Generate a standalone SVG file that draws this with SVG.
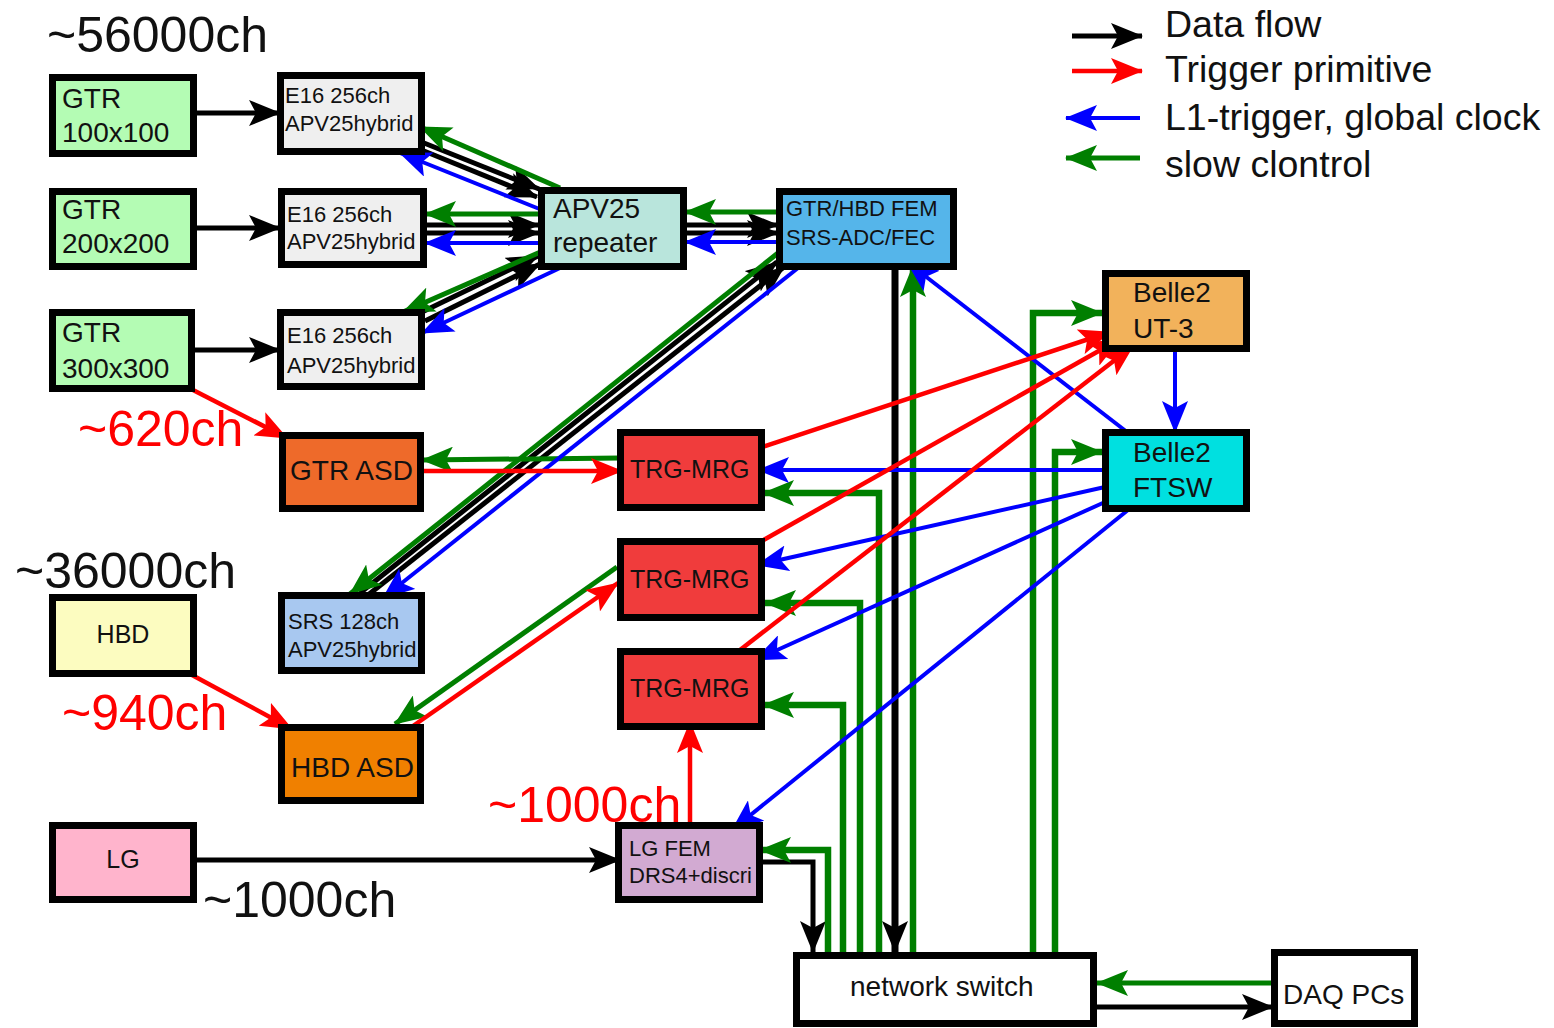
<svg xmlns="http://www.w3.org/2000/svg" width="1554" height="1028" viewBox="0 0 1554 1028">
<style>
text{font-family:"Liberation Sans",Arial,sans-serif;fill:#111}
.box{stroke:#000;stroke-width:7}
.t28{font-size:28px}
.t25{font-size:25px}
.t22{font-size:22px}
.big{font-size:50px}
.leg{font-size:37.5px}
.red{fill:#ff0000}
.k{stroke:#000;stroke-width:5;fill:none;marker-end:url(#mk)}
.k7{stroke:#000;stroke-width:7;fill:none;marker-end:url(#mk)}
.g{stroke:#007f00;stroke-width:5;fill:none;marker-end:url(#mg)}
.g6{stroke:#007f00;stroke-width:6.5;fill:none;marker-end:url(#mg)}
.b{stroke:#0000ff;stroke-width:4;fill:none;marker-end:url(#mb)}
.r{stroke:#ff0000;stroke-width:4.5;fill:none;marker-end:url(#mr)}
</style>
<defs>
<marker id="mk" markerUnits="userSpaceOnUse" viewBox="0 0 32 26" markerWidth="32" markerHeight="26" refX="31" refY="13" orient="auto"><path d="M0,0 L32,13 L0,26 L7,13 z" fill="#000"/></marker>
<marker id="mg" markerUnits="userSpaceOnUse" viewBox="0 0 32 26" markerWidth="32" markerHeight="26" refX="31" refY="13" orient="auto"><path d="M0,0 L32,13 L0,26 L7,13 z" fill="#007f00"/></marker>
<marker id="mb" markerUnits="userSpaceOnUse" viewBox="0 0 32 26" markerWidth="32" markerHeight="26" refX="31" refY="13" orient="auto"><path d="M0,0 L32,13 L0,26 L7,13 z" fill="#0000ff"/></marker>
<marker id="mr" markerUnits="userSpaceOnUse" viewBox="0 0 32 26" markerWidth="32" markerHeight="26" refX="31" refY="13" orient="auto"><path d="M0,0 L32,13 L0,26 L7,13 z" fill="#ff0000"/></marker>
</defs>
<rect width="1554" height="1028" fill="#fff"/>

<g id="labels">
<text class="big" x="47" y="52">~56000ch</text>
<text class="big" x="15" y="588">~36000ch</text>
<text class="big red" x="78" y="446">~620ch</text>
<text class="big red" x="62" y="730">~940ch</text>
<text class="big red" x="488" y="822">~1000ch</text>
<text class="big" x="203" y="917">~1000ch</text>
</g>

<g id="legend">
<path class="k" d="M1072,36 L1142,36"/>
<path class="r" d="M1072,71 L1142,71"/>
<path class="b" d="M1140,118 L1066,118"/>
<path class="g" d="M1140,158 L1066,158"/>
<text class="leg" x="1165" y="37">Data flow</text>
<text class="leg" x="1165" y="82">Trigger primitive</text>
<text class="leg" x="1165" y="130">L1-trigger, global clock</text>
<text class="leg" x="1165" y="177">slow clontrol</text>
</g>

<g id="connectors">
<path class="k" d="M197,113 L280,113"/>
<path class="k" d="M197,228 L280,228"/>
<path class="k" d="M195,350 L280,350"/>
<path class="k" d="M424,143 L539,189"/>
<path class="k" d="M424,151 L537,197"/>
<path class="k" d="M427,225 L539,225"/>
<path class="k" d="M427,233 L539,233"/>
<path class="k" d="M420,313 L538,256"/>
<path class="k" d="M425,321 L540,264"/>
<path class="k" d="M687,225 L778,225"/>
<path class="k" d="M687,233 L778,233"/>
<path class="k" d="M360,593 L777,262"/>
<path class="k" d="M368,595 L784,267"/>
<path class="k7" d="M895,270 L895,952"/>
<path class="k" d="M197,860 L620,860"/>
<path class="k" d="M763,862 L813,862 L813,952"/>
<path class="k" d="M1097,1007 L1273,1007"/>
<path class="g" d="M560,188 L420,127"/>
<path class="g" d="M540,214 L425,214"/>
<path class="g" d="M545,250 L403,312"/>
<path class="g" d="M780,212 L685,212"/>
<path class="g" d="M778,253 L350,594"/>
<path class="g" d="M620,458 L422,460"/>
<path class="g" d="M617,567 L395,724"/>
<path class="g6" d="M828,952 L828,850 L760,850"/>
<path class="g6" d="M843,952 L843,705 L763,705"/>
<path class="g6" d="M860,952 L860,603 L765,603"/>
<path class="g6" d="M879,952 L879,493 L763,493"/>
<path class="g6" d="M913,952 L913,266"/>
<path class="g6" d="M1033,952 L1033,313 L1102,313"/>
<path class="g6" d="M1055,952 L1055,452 L1102,452"/>
<path class="g" d="M1273,983 L1097,983"/>
<path class="b" d="M542,210 L400,153"/>
<path class="b" d="M540,243 L425,243"/>
<path class="b" d="M560,268 L422,333"/>
<path class="b" d="M780,242 L685,242"/>
<path class="b" d="M798,268 L383,598"/>
<path class="b" d="M1127,432 L907,262"/>
<path class="b" d="M1175,352 L1175,432"/>
<path class="b" d="M1105,470 L758,470"/>
<path class="b" d="M1105,487 L757,565"/>
<path class="b" d="M1105,502 L755,660"/>
<path class="b" d="M1128,510 L732,830"/>
<path class="r" d="M193,390 L287,438"/>
<path class="r" d="M424,471 L622,471"/>
<path class="r" d="M192,675 L292,729"/>
<path class="r" d="M413,726 L618,583"/>
<path class="r" d="M690,826 L690,722"/>
<path class="r" d="M762,447 L1110,332"/>
<path class="r" d="M760,542 L1120,339"/>
<path class="r" d="M740,650 L1133,346"/>
</g>

<g id="gtr100"><rect class="box" x="52.5" y="77.5" width="141" height="76" fill="#b4fcb4"/><text class="t28" x="62" y="108">GTR</text><text class="t28" x="62" y="142">100x100</text></g>
<g id="gtr200"><rect class="box" x="52.5" y="191.5" width="141" height="75" fill="#b4fcb4"/><text class="t28" x="62" y="219">GTR</text><text class="t28" x="62" y="253">200x200</text></g>
<g id="gtr300"><rect class="box" x="52.5" y="312.5" width="139" height="76" fill="#b4fcb4"/><text class="t28" x="62" y="342">GTR</text><text class="t28" x="62" y="378">300x300</text></g>

<g id="e16a"><rect class="box" x="280.5" y="75.5" width="141" height="76" fill="#efefef"/><text class="t22" x="285" y="103">E16 256ch</text><text class="t22" x="285" y="131">APV25hybrid</text></g>
<g id="e16b"><rect class="box" x="281.5" y="191.5" width="142" height="73" fill="#efefef"/><text class="t22" x="287" y="222">E16 256ch</text><text class="t22" x="287" y="249">APV25hybrid</text></g>
<g id="e16c"><rect class="box" x="280.5" y="312.5" width="141" height="74" fill="#efefef"/><text class="t22" x="287" y="343">E16 256ch</text><text class="t22" x="287" y="373">APV25hybrid</text></g>

<g id="apv25"><rect class="box" x="541.5" y="190.5" width="142" height="76" fill="#b9e5dc"/><text class="t28" x="553" y="218">APV25</text><text class="t28" x="553" y="252">repeater</text></g>
<g id="fem"><rect class="box" x="779.5" y="191.5" width="174" height="75" fill="#55b5ea"/><text class="t22" x="786" y="216">GTR/HBD FEM</text><text class="t22" x="786" y="245">SRS-ADC/FEC</text></g>
<g id="ut3"><rect class="box" x="1105.5" y="273.5" width="141" height="75" fill="#f2b25b"/><text class="t28" x="1133" y="302">Belle2</text><text class="t28" x="1133" y="338">UT-3</text></g>
<g id="ftsw"><rect class="box" x="1105.5" y="432.5" width="141" height="76" fill="#00e0e0"/><text class="t28" x="1133" y="462">Belle2</text><text class="t28" x="1133" y="497">FTSW</text></g>

<g id="gtrasd"><rect class="box" x="282.5" y="435.5" width="138" height="73" fill="#ee6a2a"/><text class="t28" x="290" y="480">GTR ASD</text></g>
<g id="trg1"><rect class="box" x="620.5" y="432.5" width="141" height="75" fill="#f03c3c"/><text class="t25" x="630" y="478">TRG-MRG</text></g>
<g id="trg2"><rect class="box" x="620.5" y="541.5" width="141" height="76" fill="#f03c3c"/><text class="t25" x="630" y="588">TRG-MRG</text></g>
<g id="trg3"><rect class="box" x="620.5" y="651.5" width="141" height="75" fill="#f03c3c"/><text class="t25" x="630" y="697">TRG-MRG</text></g>

<g id="hbd"><rect class="box" x="52.5" y="597.5" width="141" height="76" fill="#fcfcc0"/><text class="t25" x="123" y="643" text-anchor="middle">HBD</text></g>
<g id="srs"><rect class="box" x="281.5" y="595.5" width="140" height="75" fill="#a8c8f0"/><text class="t22" x="288" y="629">SRS 128ch</text><text class="t22" x="288" y="657">APV25hybrid</text></g>
<g id="hbdasd"><rect class="box" x="281.5" y="727.5" width="139" height="73" fill="#f08000"/><text class="t28" x="291" y="777">HBD ASD</text></g>
<g id="lg"><rect class="box" x="52.5" y="825.5" width="141" height="74" fill="#ffb4cc"/><text class="t25" x="123" y="868" text-anchor="middle">LG</text></g>
<g id="lgfem"><rect class="box" x="618.5" y="825.5" width="141" height="74" fill="#d2aad2"/><text class="t22" x="629" y="856">LG FEM</text><text class="t22" x="629" y="883">DRS4+discri</text></g>

<g id="switch"><rect class="box" x="796.5" y="955.5" width="297" height="68" fill="#fff"/><text class="t28" x="850" y="996">network switch</text></g>
<g id="daq"><rect class="box" x="1274.5" y="952.5" width="140" height="71" fill="#fff"/><text class="t28" x="1283" y="1004">DAQ PCs</text></g>
</svg>
